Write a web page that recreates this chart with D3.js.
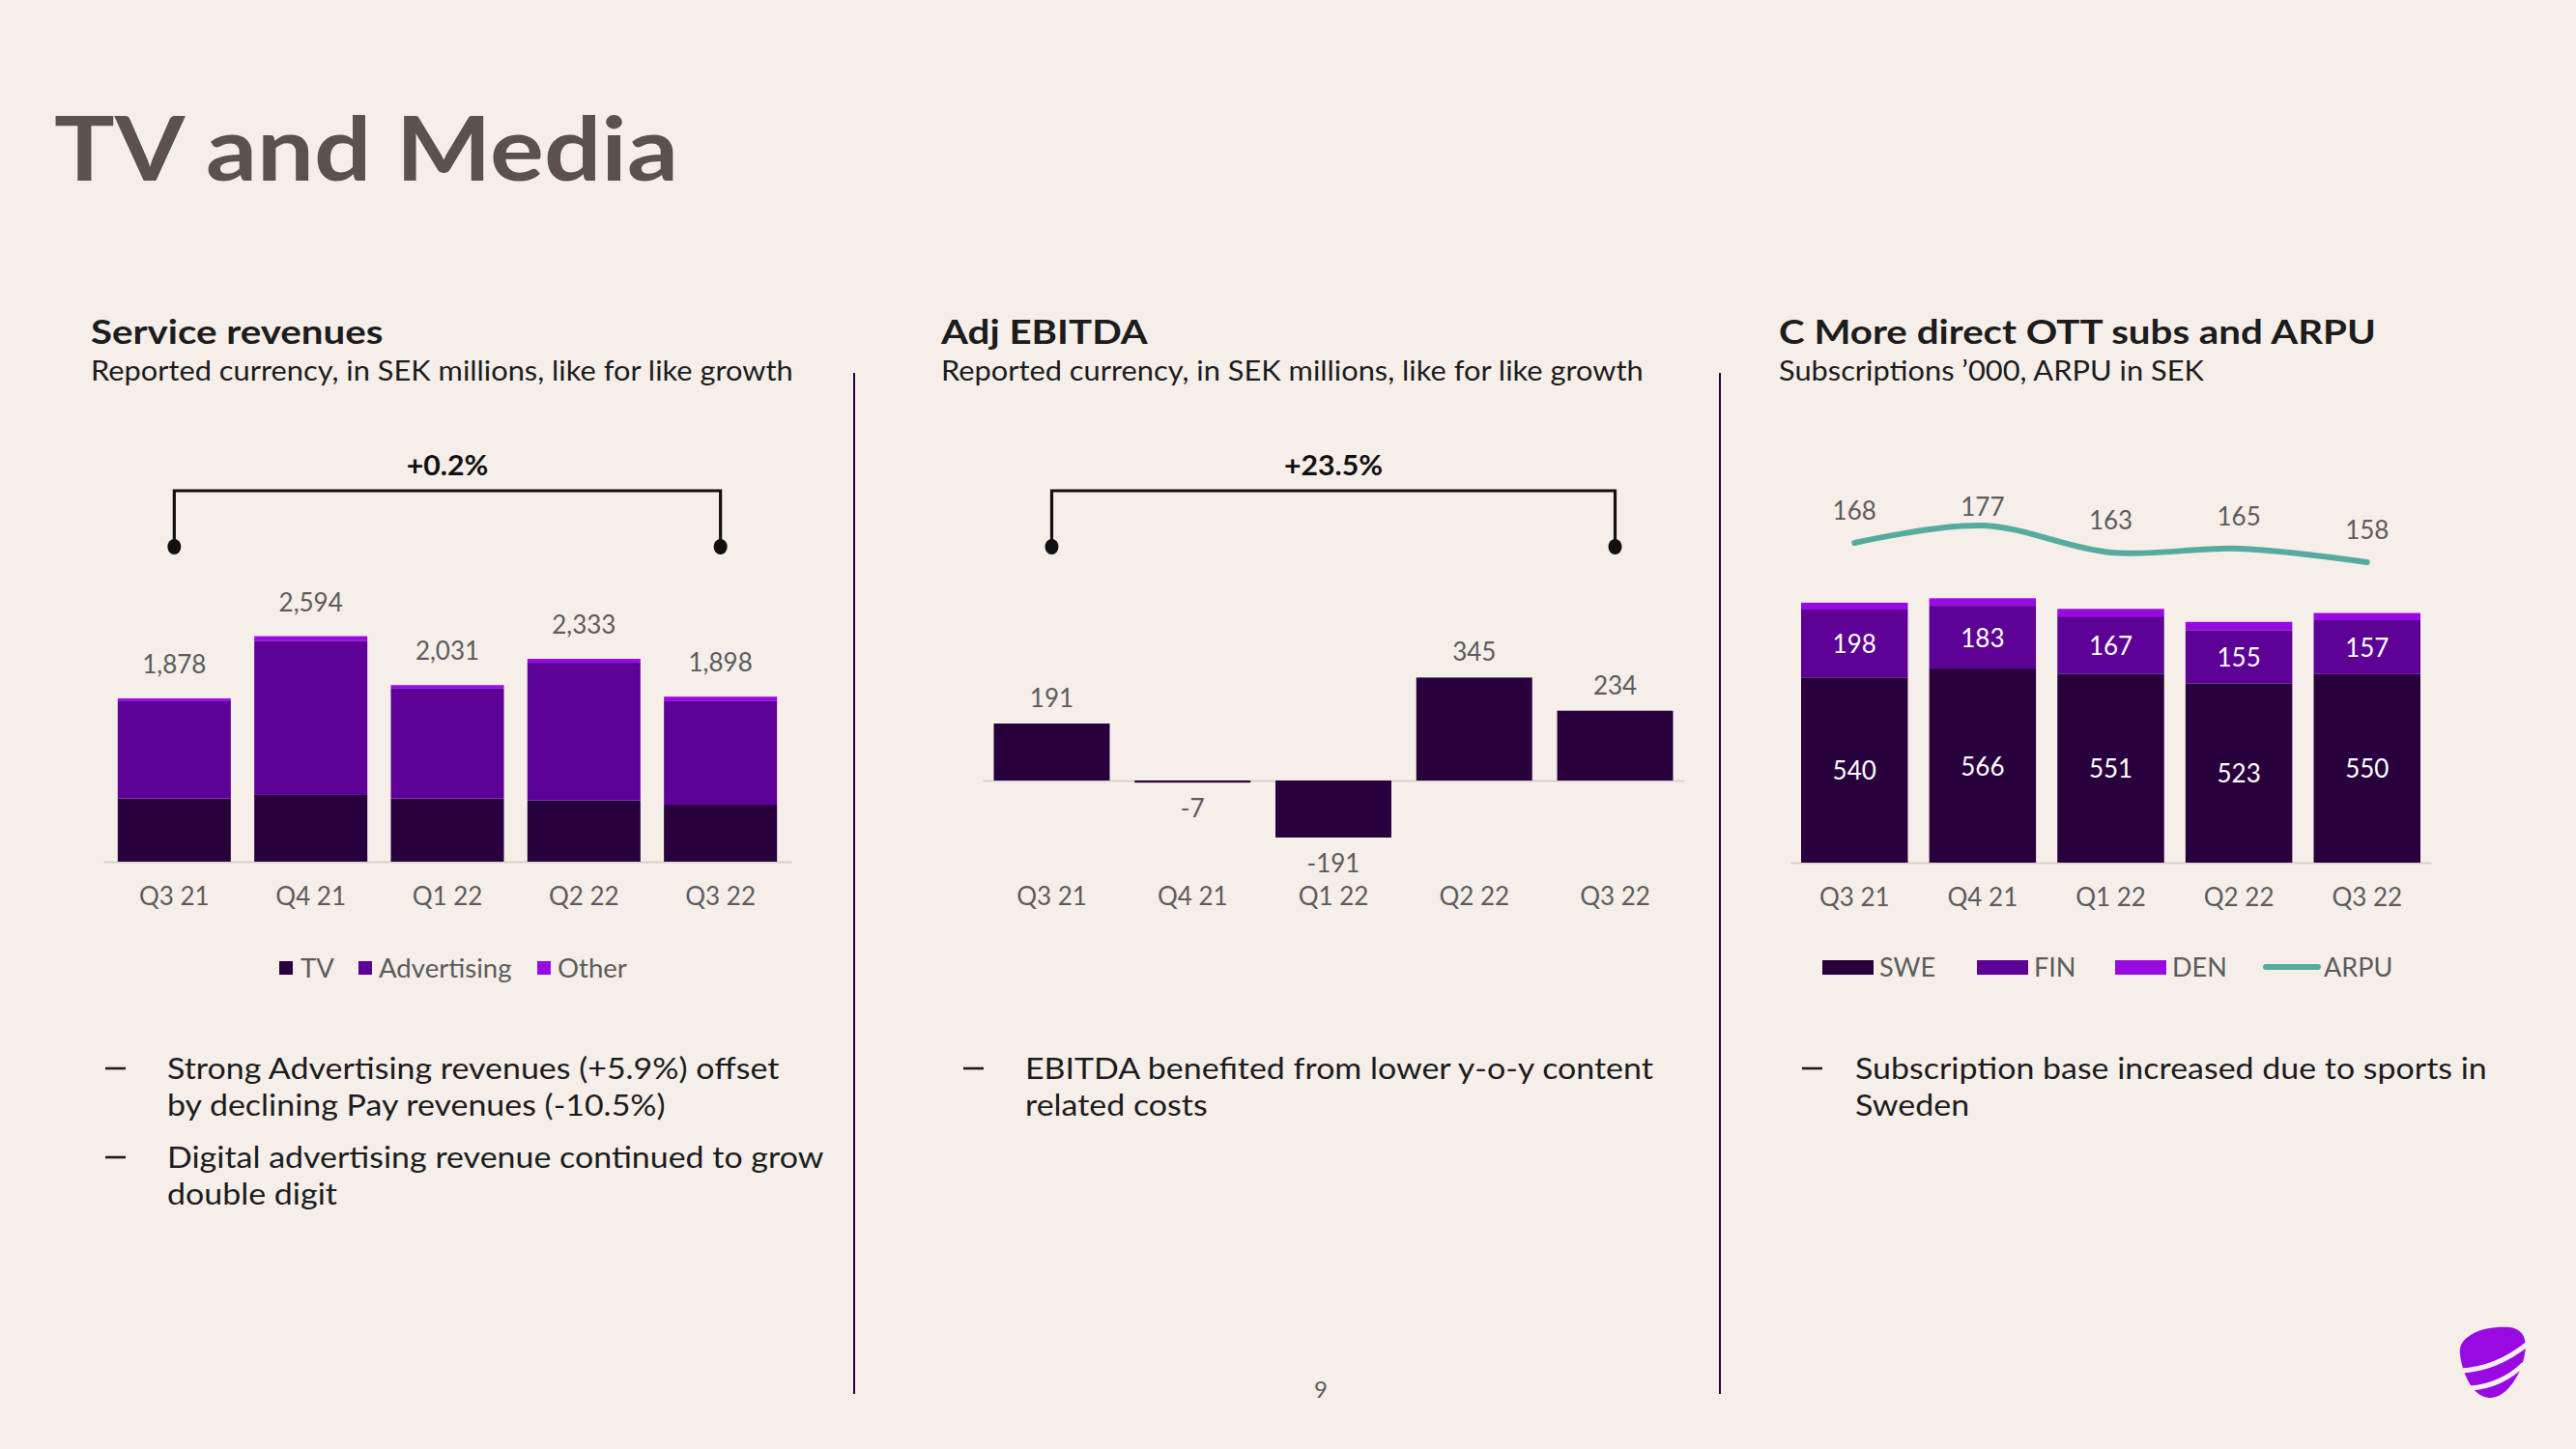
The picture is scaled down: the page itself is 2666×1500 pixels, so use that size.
<!DOCTYPE html>
<html>
<head>
<meta charset="utf-8">
<script src="https://cdn.jsdelivr.net/npm/d3@7"></script>
<style>
  html, body { margin: 0; padding: 0; background: #f6eee9; }
  svg { display: block; }
</style>
</head>
<body>
<svg id="chart" width="2666" height="1500"></svg>
<script>
// ---------------- DATA ----------------
const quarters = ["Q3 21", "Q4 21", "Q1 22", "Q2 22", "Q3 22"];

// Service revenues (SEK m), stacked
const revTV          = [727, 767, 727, 705, 655];
const revAdvertising = [1118, 1774, 1263, 1583, 1190];
const revOther       = [33, 53, 41, 45, 53];
const revSeries      = ["TV", "Advertising", "Other"];
const revGrowth      = "+0.2%";

// Adj EBITDA (SEK m)
const ebitda       = [191, -7, -191, 345, 234];
const ebitdaGrowth = "+23.5%";

// C More direct OTT subs ('000) and ARPU (SEK)
const subsSWE    = [540, 566, 551, 523, 550];
const subsFIN    = [198, 183, 167, 155, 157];
const subsDEN    = [20, 22, 22, 24, 21];
const arpu       = [168, 177, 163, 165, 158];
const subsSeries = ["SWE", "FIN", "DEN", "ARPU"];

const titleText = "TV and Media";
const headings  = ["Service revenues", "Adj EBITDA", "C More direct OTT subs and ARPU"];
const subtitles = ["Reported currency, in SEK millions, like for like growth",
                   "Reported currency, in SEK millions, like for like growth",
                   "Subscriptions \u2019000, ARPU in SEK"];
const bullets1 = [["Strong Advertising revenues (+5.9%) offset", "by declining Pay revenues (-10.5%)"],
                  ["Digital advertising revenue continued to grow", "double digit"]];
const bullets2 = [["EBITDA benefited from lower y-o-y content", "related costs"]];
const bullets3 = [["Subscription base increased due to sports in", "Sweden"]];
const pageNumber = "9";

// ---------------- STYLE ----------------
const FONT = "Lato, 'Open Sans', sans-serif";
const C_DARK = "#29003e", C_MID = "#5c0096", C_LIGHT = "#990ae3", C_TEAL = "#55aba0";
const C_BG = "#f6eee9", C_AXIS = "#d8d2cd", C_LABEL = "#5c5c5c", C_TEXT = "#1c1c1c";

const svg = d3.select("#chart");
svg.append("rect").attr("width", 2666).attr("height", 1500).attr("fill", C_BG);

// widen glyphs horizontally (reference face is wider than Lato)
function stretch(sel, k) {
  sel.each(function () {
    const w = this.getComputedTextLength();
    d3.select(this).attr("textLength", (w * k).toFixed(1)).attr("lengthAdjust", "spacingAndGlyphs");
  });
  return sel;
}

// Title
const title = svg.append("text").attr("x", 56).attr("y", 187)
  .attr("font-family", FONT).attr("font-weight", 700).attr("font-size", 92)
  .attr("fill", "#5b524d").text(titleText);
title.attr("textLength", 646).attr("lengthAdjust", "spacingAndGlyphs");

// Headings & subtitles
const headX = [94, 974, 1841];
headings.forEach((h, i) => {
  stretch(svg.append("text").attr("x", headX[i]).attr("y", 356)
    .attr("font-family", FONT).attr("font-weight", 700).attr("font-size", 35)
    .attr("fill", C_TEXT).text(h), 1.15);
  stretch(svg.append("text").attr("x", headX[i]).attr("y", 394)
    .attr("font-family", FONT).attr("font-size", 28)
    .attr("fill", C_TEXT).text(subtitles[i]), 1.1);
});

// Dividers
[884, 1780].forEach(x => {
  svg.append("line").attr("x1", x).attr("x2", x).attr("y1", 386).attr("y2", 1443)
    .attr("stroke", C_DARK).attr("stroke-width", 2);
});

// Helpers
function drawAxis(x, y0, labelY) {
  const a = svg.append("g").attr("transform", `translate(0,${y0})`)
    .call(d3.axisBottom(x).tickSize(0).tickSizeOuter(0).tickPadding(labelY - y0 - 9));
  a.attr("font-family", null).attr("font-size", null);
  a.select(".domain").attr("stroke", C_AXIS).attr("stroke-width", 2);
  a.selectAll(".tick text").attr("font-family", FONT).attr("font-size", 26).attr("fill", C_LABEL);
  return a;
}
function bracket(xa, xb, label) {
  const yTop = 508, yDot = 566;
  svg.append("path")
    .attr("d", `M${xa},${yDot} V${yTop} H${xb} V${yDot}`)
    .attr("fill", "none").attr("stroke", "#111").attr("stroke-width", 3.2);
  [xa, xb].forEach(x => svg.append("ellipse").attr("cx", x).attr("cy", yDot)
    .attr("rx", 7).attr("ry", 8).attr("fill", "#111"));
  stretch(svg.append("text").attr("x", (xa + xb) / 2).attr("y", 481)
    .attr("text-anchor", "middle").attr("dominant-baseline", "central")
    .attr("font-family", FONT).attr("font-weight", 700).attr("font-size", 28)
    .attr("fill", "#111").text(label), 1.08);
}
function bulletList(items, xDash, xText, yStart) {
  let y = yStart;
  items.forEach(lines => {
    svg.append("line").attr("x1", xDash).attr("x2", xDash + 21).attr("y1", y + 1).attr("y2", y + 1)
      .attr("stroke", C_TEXT).attr("stroke-width", 2.6);
    lines.forEach((ln, j) => {
      stretch(svg.append("text").attr("x", xText).attr("y", y + j * 38).attr("dominant-baseline", "central")
        .attr("font-family", FONT).attr("font-size", 31).attr("fill", C_TEXT).text(ln), 1.095);
    });
    y += lines.length * 38 + 16;
  });
}

// ---------------- PANEL 1: Service revenues ----------------
{
  const x = d3.scaleBand().domain(quarters).range([107, 819]).paddingInner(0.172).paddingOuter(0.105);
  const y = d3.scaleLinear().domain([0, 3000]).range([892, 622]);
  drawAxis(x, 892, 928);

  const rows = quarters.map((q, i) => ({ q, TV: revTV[i], Advertising: revAdvertising[i], Other: revOther[i] }));
  const stack = d3.stack().keys(revSeries)(rows);
  const colors = { TV: C_DARK, Advertising: C_MID, Other: C_LIGHT };
  svg.append("g").selectAll("g").data(stack).join("g").attr("fill", d => colors[d.key])
    .selectAll("rect").data(d => d).join("rect")
    .attr("x", d => x(d.data.q)).attr("width", x.bandwidth())
    .attr("y", d => y(d[1])).attr("height", d => y(d[0]) - y(d[1]));

  const fmt = d3.format(",");
  svg.append("g").selectAll("text").data(rows).join("text")
    .attr("x", d => x(d.q) + x.bandwidth() / 2)
    .attr("y", d => y(d.TV + d.Advertising + d.Other) - 36)
    .attr("text-anchor", "middle").attr("dominant-baseline", "central")
    .attr("font-family", FONT).attr("font-size", 26).attr("fill", C_LABEL)
    .text(d => fmt(d.TV + d.Advertising + d.Other));

  bracket(x(quarters[0]) + x.bandwidth() / 2, x(quarters[4]) + x.bandwidth() / 2, revGrowth);

  // Legend
  const legX = [[289, 311], [371, 392], [556, 577]];
  revSeries.forEach((s, i) => {
    svg.append("rect").attr("x", legX[i][0]).attr("y", 995).attr("width", 14).attr("height", 14).attr("fill", colors[s]);
    stretch(svg.append("text").attr("x", legX[i][1]).attr("y", 1002).attr("dominant-baseline", "central")
      .attr("font-family", FONT).attr("font-size", 26).attr("fill", C_LABEL).text(s), 1.06);
  });
  bulletList(bullets1, 109, 173, 1105);
}

// ---------------- PANEL 2: Adj EBITDA ----------------
{
  const x = d3.scaleBand().domain(quarters).range([1017, 1743]).paddingInner(0.177).paddingOuter(0.079);
  const y = d3.scaleLinear().domain([-300, 400]).range([808 + 300 * 0.309, 808 - 400 * 0.309]);
  drawAxis(x, y(0), 928);

  const rows = quarters.map((q, i) => ({ q, v: ebitda[i] }));
  svg.append("g").selectAll("rect").data(rows).join("rect")
    .attr("x", d => x(d.q)).attr("width", x.bandwidth())
    .attr("y", d => y(Math.max(0, d.v))).attr("height", d => Math.abs(y(d.v) - y(0)))
    .attr("fill", C_DARK);
  svg.append("g").selectAll("text").data(rows).join("text")
    .attr("x", d => x(d.q) + x.bandwidth() / 2)
    .attr("y", d => d.v >= 0 ? y(d.v) - 27 : y(d.v) + 26)
    .attr("text-anchor", "middle").attr("dominant-baseline", "central")
    .attr("font-family", FONT).attr("font-size", 26).attr("fill", C_LABEL)
    .text(d => String(d.v));

  bracket(x(quarters[0]) + x.bandwidth() / 2, x(quarters[4]) + x.bandwidth() / 2, ebitdaGrowth);
  bulletList(bullets2, 997, 1061, 1105);
}

// ---------------- PANEL 3: C More subs & ARPU ----------------
{
  const x = d3.scaleBand().domain(quarters).range([1853, 2516]).paddingInner(0.167).paddingOuter(0.083);
  const y = d3.scaleLinear().domain([0, 800]).range([893, 893 - 800 * 0.355]);
  const yA = d3.scaleLinear().domain([0, 200]).range([898, 498]);
  drawAxis(x, 893, 929);

  const rows = quarters.map((q, i) => ({ q, SWE: subsSWE[i], FIN: subsFIN[i], DEN: subsDEN[i], ARPU: arpu[i] }));
  const keys = ["SWE", "FIN", "DEN"];
  const colors = { SWE: C_DARK, FIN: C_MID, DEN: C_LIGHT };
  const stack = d3.stack().keys(keys)(rows);
  svg.append("g").selectAll("g").data(stack).join("g").attr("fill", d => colors[d.key])
    .selectAll("rect").data(d => d).join("rect")
    .attr("x", d => x(d.data.q)).attr("width", x.bandwidth())
    .attr("y", d => y(d[1])).attr("height", d => y(d[0]) - y(d[1]));

  // segment labels (SWE, FIN)
  stack.filter(s => s.key !== "DEN").forEach(s => {
    svg.append("g").selectAll("text").data(s).join("text")
      .attr("x", d => x(d.data.q) + x.bandwidth() / 2)
      .attr("y", d => (y(d[0]) + y(d[1])) / 2)
      .attr("text-anchor", "middle").attr("dominant-baseline", "central")
      .attr("font-family", FONT).attr("font-size", 26).attr("fill", "#ffffff")
      .text(d => d.data[s.key]);
  });

  // ARPU line
  const line = d3.line().x(d => x(d.q) + x.bandwidth() / 2).y(d => yA(d.ARPU))
    .curve(d3.curveCatmullRom.alpha(0.5));
  svg.append("path").datum(rows).attr("d", line).attr("fill", "none")
    .attr("stroke", C_TEAL).attr("stroke-width", 6).attr("stroke-linecap", "round");
  svg.append("g").selectAll("text").data(rows).join("text")
    .attr("x", d => x(d.q) + x.bandwidth() / 2)
    .attr("y", d => Math.max(524, yA(d.ARPU) - 34))
    .attr("text-anchor", "middle").attr("dominant-baseline", "central")
    .attr("font-family", FONT).attr("font-size", 26).attr("fill", C_LABEL)
    .text(d => d.ARPU);

  // Legend
  const legX = [[1886, 1945], [2046, 2105], [2189, 2248], [2345, 2405]];
  subsSeries.forEach((s, i) => {
    if (s === "ARPU") {
      svg.append("line").attr("x1", legX[i][0]).attr("x2", legX[i][0] + 54).attr("y1", 1001).attr("y2", 1001)
        .attr("stroke", C_TEAL).attr("stroke-width", 6).attr("stroke-linecap", "round");
    } else {
      svg.append("rect").attr("x", legX[i][0]).attr("y", 994).attr("width", 53).attr("height", 15).attr("fill", colors[s]);
    }
    stretch(svg.append("text").attr("x", legX[i][1]).attr("y", 1001).attr("dominant-baseline", "central")
      .attr("font-family", FONT).attr("font-size", 26).attr("fill", C_LABEL).text(s), 1.04);
  });
  bulletList(bullets3, 1865, 1920, 1105);
}

// Page number
svg.append("text").attr("x", 1367).attr("y", 1437).attr("text-anchor", "middle").attr("dominant-baseline", "central")
  .attr("font-family", FONT).attr("font-size", 24).attr("fill", "#5c5c5c").text(pageNumber);

// Logo (decorative pebble)
const logo = svg.append("g");
logo.append("path")
  .attr("d", "M2546,1402 C2543,1382 2572,1372 2597,1374 C2616,1376 2616,1394 2611,1410 C2605,1430 2591,1448 2576,1447 C2561,1446 2549,1426 2546,1402 Z")
  .attr("fill", C_LIGHT);
logo.append("path").attr("d", "M2546,1419 C2570,1418 2595,1408 2616,1391")
  .attr("fill", "none").attr("stroke", C_BG).attr("stroke-width", 5);
logo.append("path").attr("d", "M2556,1437 C2578,1436 2598,1426 2612,1412")
  .attr("fill", "none").attr("stroke", C_BG).attr("stroke-width", 5);
</script>
</body>
</html>
